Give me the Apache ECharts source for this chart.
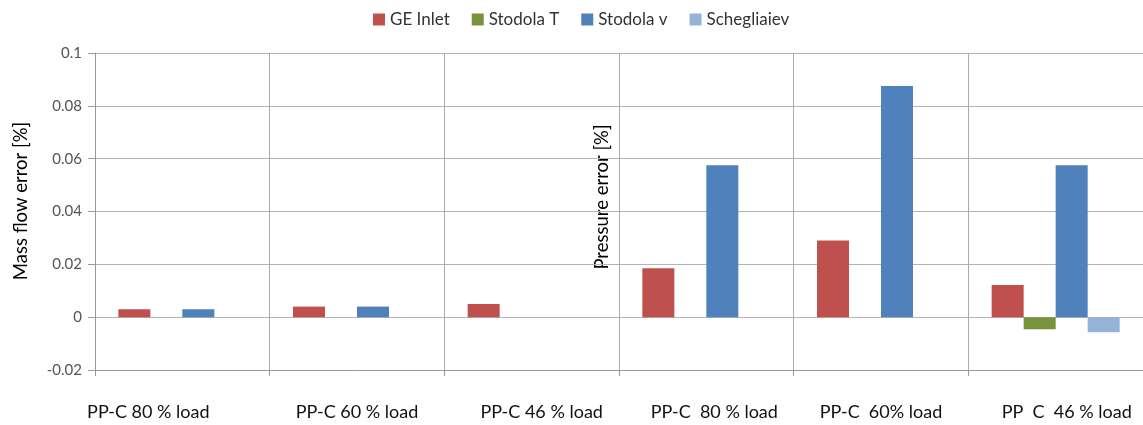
<!DOCTYPE html>
<html>
<head>
<meta charset="utf-8">
<script src="https://cdn.jsdelivr.net/npm/echarts@6/dist/echarts.min.js"></script>
<style>
html,body{margin:0;padding:0;background:#fff;}
#c{width:1143px;height:425px;}
</style>
</head>
<body>
<div id="c"></div>
<script>
var categories = ['PP-C 80 % load','PP-C 60 % load','PP-C 46 % load','PP-C  80 % load','PP-C  60% load','PP  C  46 % load'];
var seriesNames = ['GE Inlet','Stodola T','Stodola v','Schegliaiev'];
var geInlet = [0.003, 0.004, 0.005, 0.0185, 0.029, 0.0122];
var stodolaT = [null, null, null, null, null, -0.0046];
var stodolaV = [0.003, 0.004, null, 0.0575, 0.0875, 0.0575];
var schegliaiev = [null, null, null, null, null, -0.0057];
var yTicks = {min: -0.02, max: 0.1, interval: 0.02};
var colors = ['#C0504D','#77933C','#4F81BD','#95B3D7'];

var FONT = 'Lato, "Liberation Sans", sans-serif';
var labelOffsets = [-34, 0, 10, 8, 0, 11];

var chart = echarts.init(document.getElementById('c'), null, {renderer:'canvas'});
var dataSets = [geInlet, stodolaT, stodolaV, schegliaiev];
var rich = {};
labelOffsets.forEach(function(o, i){
  rich['l'+i] = {
    fontSize: 18, color: '#111', fontFamily: FONT,
    padding: o < 0 ? [0, -2*o, 0, 0] : [0, 0, 0, 2*o]
  };
});
var option = {
  animation: false,
  color: colors,
  textStyle: {fontFamily: FONT},
  legend: {
    top: 6, left: 368,
    itemWidth: 12, itemHeight: 12, itemGap: 22,
    icon: 'rect',
    textStyle: {fontSize: 17, color: '#333', fontFamily: FONT},
    data: seriesNames
  },
  grid: {left: 95, top: 53, width: 1050, height: 317, containLabel: false},
  xAxis: {
    type: 'category',
    data: categories,
    boundaryGap: true,
    axisLine: {onZero: false, lineStyle: {color: '#999', width: 1}},
    axisTick: {show: true, length: 6, lineStyle: {color: '#999'}},
    splitLine: {show: true, lineStyle: {color: '#aaa', width: 1}},
    axisLabel: {
      margin: 33, interval: 0,
      formatter: function(v, i){ return '{l'+i+'|'+v+'}'; },
      rich: rich
    }
  },
  yAxis: {
    type: 'value',
    min: yTicks.min, max: yTicks.max, interval: yTicks.interval,
    axisLine: {show: true, lineStyle: {color: '#999'}},
    axisTick: {show: true, length: 7, lineStyle: {color: '#999'}},
    splitLine: {show: true, lineStyle: {color: '#b4b4b4', width: 1}},
    axisLabel: {
      fontSize: 15, color: '#555', margin: 13, fontFamily: FONT,
      formatter: function(v){ return String(Math.round(v*100)/100); }
    }
  },
  graphic: [
    {type: 'text', x: 21, y: 201, rotation: Math.PI/2,
     style: {text: 'Mass flow error [%]', fontSize: 18.5, fill: '#000', fontFamily: FONT,
             textAlign: 'center', textVerticalAlign: 'middle'}},
    {type: 'text', x: 602, y: 197, rotation: Math.PI/2,
     style: {text: 'Pressure error [%]', fontSize: 18.5, fill: '#000', fontFamily: FONT,
             textAlign: 'center', textVerticalAlign: 'middle'}}
  ],
  series: dataSets.map(function(d, i){
    return {
      name: seriesNames[i], type: 'bar', data: d,
      barWidth: 32, barGap: '0%',
      itemStyle: {color: colors[i]}
    };
  })
};
chart.setOption(option);
</script>
</body>
</html>
